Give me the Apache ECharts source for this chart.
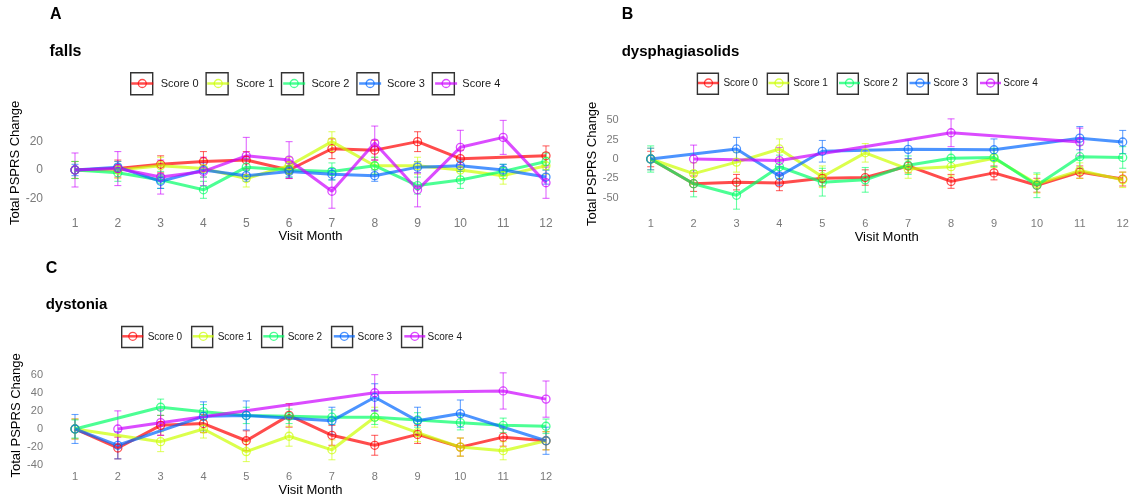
<!DOCTYPE html>
<html>
<head>
<meta charset="utf-8">
<script src="https://cdn.jsdelivr.net/npm/echarts@6/dist/echarts.min.js"></script>
<style>
  html, body { margin: 0; padding: 0; background: #fff; }
  #chart { width: 1133px; height: 500px; }
</style>
</head>
<body>
<div id="chart"></div>
<script>
// Visit months shared by every panel
const months = [1, 2, 3, 4, 5, 6, 7, 8, 9, 10, 11, 12];
const scoreNames = ['Score 0', 'Score 1', 'Score 2', 'Score 3', 'Score 4'];

// falls: mean change per score group, and standard error
const fallsScore0 = [0, 1, 4, 6, 7, 0, 15, 14, 20, 8, null, 10];
const fallsScore1 = [0, 0, 3, 1, -6, 3, 20, 3, 3, 0, -4, 3];
const fallsScore2 = [0, -2, -7, -14, 2, 0, -1, 3, -11, -7, -1, 6];
const fallsScore3 = [0, 2, -8, 0, -4, -1, -3, -4, 2, 3, 0, -5];
const fallsScore4 = [0, 1, -5, -1, 10, 7, -15, 19, -14, 16, 23, -9];
const fallsSe0 = [6, 6, 6, 7, 6, 6, 7, 7, 7, 6, null, 7];
const fallsSe1 = [6, 6, 6, 6, 6, 6, 7, 6, 6, 6, 6, 6];
const fallsSe2 = [6, 6, 6, 6, 6, 5, 6, 6, 6, 6, 5, 6];
const fallsSe3 = [4, 4, 5, 5, 4, 4, 4, 4, 4, 4, 4, 5];
const fallsSe4 = [12, 12, 12, 10, 13, 13, 12, 12, 12, 12, 12, 11];

// dysphagiasolids
const dysphScore0 = [0, -32, -30, -31, -25, -24, -9, -29, -18, -34, -17, -26];
const dysphScore1 = [0, -19, -4, 13, -23, 8, -13, -10, 1, -32, -15, -27];
const dysphScore2 = [0, -32, -47, -10, -30, -27, -8, 1, 2, -34, 3, 2];
const dysphScore3 = [0, null, 13, -22, 10, null, 12.5, null, 12, null, 27, 22];
const dysphScore4 = [null, 0, null, -2, null, null, null, 34, null, null, 22, null];
const dysphSe0 = [10, 10, 10, 10, 10, 10, 9, 9, 9, 9, 8, 9];
const dysphSe1 = [14, 14, 13, 13, 14, 12, 12, 12, 12, 12, 10, 10];
const dysphSe2 = [17, 17, 18, 15, 18, 16, 12, 12, 12, 16, 15, 14];
const dysphSe3 = [14, null, 15, 12, 14, null, 12, null, 14, null, 15, 15];
const dysphSe4 = [null, 18, null, 17, null, null, null, 18, null, null, 18, null];

// dystonia
const dystScore0 = [0, -21, 4, 6, -13, 15, -7, -18, -6, -20, -9, -13];
const dystScore1 = [0, null, -14, 0, -25, -8, -23, 13, -4, -20, -24, -13];
const dystScore2 = [0, null, 24, 19, 15, 14, 13, 13, 10, 7, 4, 3];
const dystScore3 = [0, -18, null, 14, 15, null, 9, 35, 9, 17, null, -13];
const dystScore4 = [null, 0, 7, null, null, null, null, 40, null, null, 42, 33];
const dystSe0 = [11, 12, 11, 10, 11, 13, 11, 11, 10, 10, 10, 10];
const dystSe1 = [11, null, 11, 10, 11, 11, 11, 11, 10, 10, 10, 10];
const dystSe2 = [10, null, 9, 8, 9, 8, 8, 8, 8, 8, 8, 8];
const dystSe3 = [16, 15, null, 16, 16, null, 15, 15, 15, 15, null, 15];
const dystSe4 = [null, 20, 14, null, null, null, null, 20, null, null, 20, 20];

// Axis tick labels
const fallsTicks = [-20, 0, 20];
const dysphTicks = [-50, -25, 0, 25, 50];
const dystTicks = [-40, -20, 0, 20, 40, 60];

// R rainbow(5) palette with transparency
const lineColors = ['rgba(255,0,0,0.7)', 'rgba(204,255,0,0.7)', 'rgba(0,255,102,0.7)', 'rgba(0,102,255,0.7)', 'rgba(204,0,255,0.7)'];
const barColors = ['rgba(255,0,0,0.6)', 'rgba(204,255,0,0.6)', 'rgba(0,255,102,0.6)', 'rgba(0,102,255,0.6)', 'rgba(204,0,255,0.6)'];

const FONT = '"Liberation Sans", Arial, Helvetica, sans-serif';

const panels = [
  {
    tag: 'A', title: 'falls', means: [fallsScore0, fallsScore1, fallsScore2, fallsScore3, fallsScore4],
    ses: [fallsSe0, fallsSe1, fallsSe2, fallsSe3, fallsSe4], ticks: fallsTicks,
    grid: { left: 75, top: 113.3, width: 471, height: 99.2 },
    yMin: -30, yMax: 40, yInterval: 10,
    tagPos: [50, 7], titlePos: [49.5, 44], titleSize: 16,
    legendLeft: 130, legendCenter: 83, box: 22, legendFont: 11, legendGap: 6.8, legendTextPad: 3,
    tickFont: 12, xLabelMargin: 5, xNameGap: 17, yNameGap: 50
  },
  {
    tag: 'B', title: 'dysphagiasolids', means: [dysphScore0, dysphScore1, dysphScore2, dysphScore3, dysphScore4],
    ses: [dysphSe0, dysphSe1, dysphSe2, dysphSe3, dysphSe4], ticks: dysphTicks,
    grid: { left: 650.7, top: 110.75, width: 472, height: 106.15 },
    yMin: -75, yMax: 62.5, yInterval: 12.5,
    tagPos: [621.7, 7], titlePos: [621.7, 44.5], titleSize: 15,
    legendLeft: 696.7, legendCenter: 83, box: 21, legendFont: 10, legendGap: 8.8, legendTextPad: 0,
    tickFont: 11, xLabelMargin: 2, xNameGap: 13, yNameGap: 48
  },
  {
    tag: 'C', title: 'dystonia', means: [dystScore0, dystScore1, dystScore2, dystScore3, dystScore4],
    ses: [dystSe0, dystSe1, dystSe2, dystSe3, dystSe4], ticks: dystTicks,
    grid: { left: 75, top: 365.6, width: 471, height: 99.6 },
    yMin: -40, yMax: 70, yInterval: 10,
    tagPos: [45.7, 260.5], titlePos: [45.7, 297.3], titleSize: 15,
    legendLeft: 121, legendCenter: 336.3, box: 21, legendFont: 10, legendGap: 8.8, legendTextPad: 0,
    tickFont: 11, xLabelMargin: 6.5, xNameGap: 17, yNameGap: 50
  }
];

const titles = [], grids = [], xAxes = [], yAxes = [], legends = [], lineSeries = [], barSeries = [];

panels.forEach((p, pi) => {
  titles.push({ text: p.tag, left: p.tagPos[0], top: p.tagPos[1], padding: 0,
    textStyle: { fontFamily: FONT, fontSize: 16, fontWeight: 'bold', color: '#000' } });
  titles.push({ text: p.title, left: p.titlePos[0], top: p.titlePos[1], padding: 0,
    textStyle: { fontFamily: FONT, fontSize: p.titleSize, fontWeight: 'bold', color: '#000' } });

  grids.push(Object.assign({ containLabel: false }, p.grid));

  xAxes.push({
    type: 'value', gridIndex: pi, min: 1, max: 12, interval: 1,
    name: 'Visit Month', nameLocation: 'middle', nameGap: p.xNameGap,
    nameTextStyle: { fontFamily: FONT, fontSize: 13, color: '#000' },
    axisLine: { show: false }, axisTick: { show: false }, splitLine: { show: false },
    axisLabel: { fontFamily: FONT, fontSize: p.tickFont, color: '#7a7a7a', margin: p.xLabelMargin,
      formatter: v => months.includes(v) ? String(v) : '' }
  });

  yAxes.push({
    type: 'value', gridIndex: pi, min: p.yMin, max: p.yMax, interval: p.yInterval,
    name: 'Total PSPRS Change', nameLocation: 'middle', nameGap: p.yNameGap,
    nameTextStyle: { fontFamily: FONT, fontSize: 13, color: '#000' },
    axisLine: { show: false }, axisTick: { show: false }, splitLine: { show: false },
    axisLabel: { fontFamily: FONT, fontSize: p.tickFont, color: '#7a7a7a', margin: 32,
      formatter: v => p.ticks.includes(v) ? String(v) : '' }
  });

  // Framed key boxes, drawn underneath the line keys
  legends.push({
    data: scoreNames, left: p.legendLeft, top: p.legendCenter - p.box / 2, padding: 0,
    orient: 'horizontal', icon: 'rect', itemWidth: p.box, itemHeight: p.box, itemGap: p.legendGap,
    itemStyle: { color: '#fff', borderColor: '#333', borderWidth: 1.4 },
    textStyle: { fontFamily: FONT, fontSize: p.legendFont, color: '#1a1a1a', padding: [0, 0, 0, p.legendTextPad] },
    z: 2
  });
  // Line + circle keys inside the boxes
  legends.push({
    data: scoreNames, left: p.legendLeft, top: p.legendCenter - 5, padding: 0,
    orient: 'horizontal', itemWidth: p.box, itemHeight: 10, itemGap: p.legendGap,
    itemStyle: { color: 'rgba(0,0,0,0)', borderWidth: 1.3 },
    lineStyle: { width: 2.5 },
    textStyle: { fontFamily: FONT, fontSize: p.legendFont, color: 'rgba(0,0,0,0)', padding: [0, 0, 0, p.legendTextPad] },
    z: 3
  });

  scoreNames.forEach((name, si) => {
    const mean = p.means[si];
    const se = p.ses[si];
    lineSeries.push({
      type: 'line', name: name, xAxisIndex: pi, yAxisIndex: pi,
      data: months.map((m, i) => [m, mean[i]]),
      connectNulls: true,
      symbol: 'circle', symbolSize: 8,
      itemStyle: { color: 'rgba(0,0,0,0)', borderColor: lineColors[si], borderWidth: 1.3 },
      lineStyle: { color: lineColors[si], width: 3 },
      emphasis: { disabled: true },
      animation: false, z: 3
    });
    const bars = [];
    months.forEach((m, i) => {
      if (mean[i] !== null && se[i] !== null) bars.push([m, mean[i] - se[i], mean[i] + se[i]]);
    });
    barSeries.push({
      type: 'custom', name: name, xAxisIndex: pi, yAxisIndex: pi,
      data: bars, encode: { x: 0, y: [1, 2] }, clip: false, animation: false, z: 2,
      renderItem: (params, api) => {
        const lo = api.coord([api.value(0), api.value(1)]);
        const hi = api.coord([api.value(0), api.value(2)]);
        const w = 3.5;
        const st = { stroke: barColors[si], lineWidth: 1.1 };
        return {
          type: 'group',
          children: [
            { type: 'line', shape: { x1: lo[0], y1: lo[1], x2: hi[0], y2: hi[1] }, style: st },
            { type: 'line', shape: { x1: lo[0] - w, y1: lo[1], x2: lo[0] + w, y2: lo[1] }, style: st },
            { type: 'line', shape: { x1: hi[0] - w, y1: hi[1], x2: hi[0] + w, y2: hi[1] }, style: st }
          ]
        };
      }
    });
  });
});

const chart = echarts.init(document.getElementById('chart'), null, { renderer: 'canvas' });
chart.setOption({
  animation: false,
  backgroundColor: '#fff',
  textStyle: { fontFamily: FONT },
  title: titles,
  grid: grids,
  xAxis: xAxes,
  yAxis: yAxes,
  legend: legends,
  series: lineSeries.concat(barSeries)
});
</script>
</body>
</html>
